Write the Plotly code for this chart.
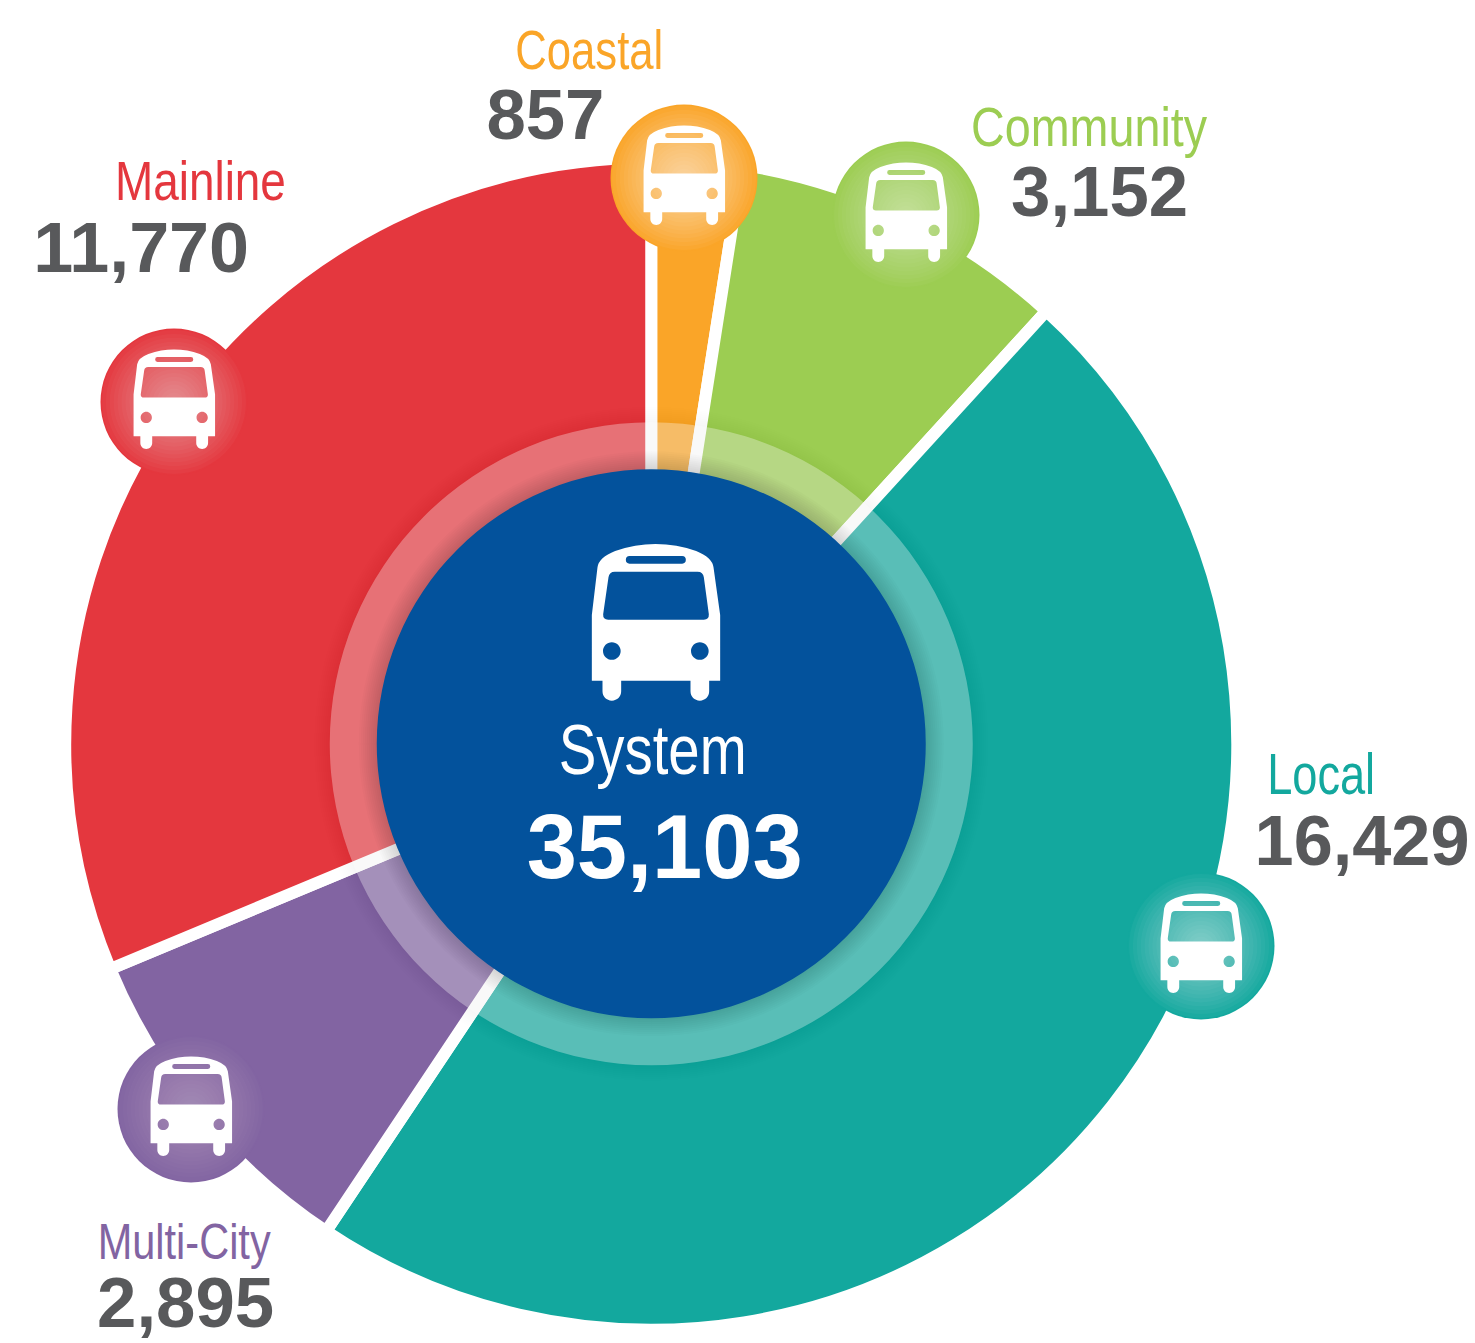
import json
import plotly.graph_objects as go

# ---- data -------------------------------------------------------------
categories = ["Coastal", "Community", "Local", "Multi-City", "Mainline"]
printed_values = [857, 3152, 16429, 2895, 11770]          # numbers printed on the graphic
# The artwork's slices are not strictly proportional to the printed numbers,
# so the slice sizes are read from the picture (degrees of arc).
drawn_arc_degrees = [8.9, 33.5, 171.3, 33.7, 112.6]
total_label = "System"
total_value = 35103
slice_colors = ["#FAA528", "#9CCD52", "#13A89E", "#8264A2", "#E4373E"]

# ---- layout constants (pixels) -----------------------------------------
W, H = 1475, 1343
CX, CY = 651.25, 743.75
R_OUT, R_RING, R_CORE = 580, 321.5, 274.5
GAP = 12
TEXT_GREY = "#58595B"
FONT = "Liberation Sans, Arial, sans-serif"

discs = [(684, 178), (906, 215), (1201, 946), (191, 1109), (174, 402)]
glow_strength = [0.55, 0.45, 0.47, 0.30, 0.45]
label_pos = [(589, 50, 55), (1089, 127, 55), (1321, 774, 57), (184, 1242, 50), (200, 181, 55)]
number_pos = [(545, 115, 70), (1099, 192, 70), (1362, 841, 70), (185, 1303, 70), (141, 248, 70)]
# rendered widths of the condensed labels and the numbers in the artwork
text_widths = {"Coastal": 148, "Community": 236, "Local": 108, "Multi-City": 173, "Mainline": 171,
               "System": 188, "857": 118, "3,152": 177, "16,429": 215, "2,895": 177,
               "11,770": 216, "35,103": 276}


def px(x):
    return x / W


def py(y):
    return 1 - y / H


def circle(cx, cy, r, color, opacity=1.0):
    return dict(type="circle", xref="paper", yref="paper", layer="above",
                x0=px(cx - r), x1=px(cx + r), y0=py(cy + r), y1=py(cy - r),
                fillcolor=color, opacity=opacity, line=dict(width=0))


def bus_path(cx, top, s):
    """Bus glyph; units are 1/3 px of the large icon, origin at the roof centre."""
    def P(u, v):
        return f"{px(cx + (u - 346) / 3 * s):.6f},{py(top + (v - 72) / 3 * s):.6f}"

    def ring(u, v, r):
        k = 0.5523 * r
        return (f"M{P(u - r, v)}C{P(u - r, v - k)} {P(u - k, v - r)} {P(u, v - r)}"
                f"C{P(u + k, v - r)} {P(u + r, v - k)} {P(u + r, v)}"
                f"C{P(u + r, v + k)} {P(u + k, v + r)} {P(u, v + r)}"
                f"C{P(u - k, v + r)} {P(u - r, v + k)} {P(u - r, v)}Z")

    body = (f"M{P(155, 285)}L{P(172, 142)}Q{P(176, 112)} {P(225, 93)}"
            f"Q{P(285, 72)} {P(346, 72)}Q{P(410, 72)} {P(468, 93)}"
            f"Q{P(516, 112)} {P(520, 142)}L{P(540, 285)}L{P(540, 482)}L{P(507, 482)}L{P(507, 514)}"
            f"C{P(507, 530)} {P(495, 542)} {P(479, 542)}C{P(463, 542)} {P(451, 530)} {P(451, 514)}"
            f"L{P(451, 482)}L{P(243, 482)}L{P(243, 514)}"
            f"C{P(243, 530)} {P(231, 542)} {P(215, 542)}C{P(199, 542)} {P(187, 530)} {P(187, 514)}"
            f"L{P(187, 482)}L{P(155, 482)}Z")
    window = (f"M{P(205, 172)}Q{P(207, 155)} {P(224, 155)}L{P(472, 155)}Q{P(489, 155)} {P(491, 172)}"
              f"L{P(506, 283)}Q{P(507, 299)} {P(491, 299)}L{P(204, 299)}Q{P(188, 299)} {P(189, 283)}Z")
    slot = (f"M{P(268, 108)}L{P(426, 108)}Q{P(437, 108)} {P(437, 119.5)}Q{P(437, 131)} {P(426, 131)}"
            f"L{P(268, 131)}Q{P(257, 131)} {P(257, 119.5)}Q{P(257, 108)} {P(268, 108)}Z")
    return body + window + slot + ring(215, 393, 26.5) + ring(479, 393, 26.5)


def bus(cx, top, s):
    return dict(type="path", xref="paper", yref="paper", layer="above",
                path=bus_path(cx, top, s), fillcolor="white", line=dict(width=0))


# ---- the ring ----------------------------------------------------------
# the white slice outline eats GAP/2 of the outer edge, so the pie is drawn that much larger
R_PIE = R_OUT + GAP / 2
fig = go.Figure(go.Pie(
    labels=categories, values=drawn_arc_degrees, customdata=printed_values,
    sort=False, direction="clockwise", rotation=0, hole=0.4,
    domain=dict(x=[px(CX - R_PIE), px(CX + R_PIE)], y=[py(CY + R_PIE), py(CY - R_PIE)]),
    marker=dict(colors=slice_colors, line=dict(color="white", width=GAP)),
    textinfo="none", hovertemplate="%{label}: %{customdata:,}<extra></extra>", showlegend=False,
))

shapes = []
# faint shadow cast by the light ring
for i in range(8):
    shapes.append(circle(CX, CY, R_RING + 16 - 2 * i, "black", 0.004))
# translucent white ring (white gaps stay white)
shapes.append(circle(CX, CY, R_RING, "white", 0.32))
# shadow cast by the blue core
for i in range(9):
    shapes.append(circle(CX, CY, R_CORE + 18 - 2 * i, "black", 0.014))
shapes.append(circle(CX, CY, R_CORE, "#03529C"))

# icon discs with a radial glow
STEPS = 18
for (dx, dy), col, strength in zip(discs, slice_colors, glow_strength):
    shapes.append(circle(dx, dy, 73.5, col))
    a = 1 - (1 - strength) ** (1 / STEPS)
    for i in range(STEPS):
        shapes.append(circle(dx, dy, 72 - i * 3.9, "white", a))
    shapes.append(bus(dx, dy - 52.5, 0.635))
shapes.append(bus(655.5, 544, 1.0))

# ---- text --------------------------------------------------------------
annotations = []


def text(s, x, y, size, color, bold=False):
    annotations.append(dict(
        text=f"<b>{s}</b>" if bold else s, xref="paper", yref="paper", x=px(x), y=py(y),
        xanchor="center", yanchor="middle", showarrow=False,
        font=dict(family=FONT, size=size, color=color)))


for name, val, col, lp, np_ in zip(categories, printed_values, slice_colors, label_pos, number_pos):
    text(name, lp[0], lp[1], lp[2], col)
    text(f"{val:,}", np_[0], np_[1], np_[2], TEXT_GREY, bold=True)
text(total_label, 652, 750, 70, "white")
text(f"{total_value:,}", 664, 847, 90, "white", bold=True)

fig.update_layout(width=W, height=H, autosize=False, margin=dict(l=0, r=0, t=0, b=0, pad=0),
                  paper_bgcolor="white", plot_bgcolor="white", shapes=shapes,
                  annotations=annotations, showlegend=False)

# No narrow font is installed: condense the real text to the artwork's widths.
post = ("document.body.style.margin='0';document.documentElement.style.overflow='hidden';"
        "var W=" + json.dumps(text_widths) + ";"
        "document.querySelectorAll('text.annotation-text').forEach(function(t){"
        "var w=W[t.textContent];if(w){t.setAttribute('textLength',w);"
        "t.setAttribute('lengthAdjust','spacingAndGlyphs');}});")
fig.write_html("out.html", config=dict(displayModeBar=False), post_script=post)
